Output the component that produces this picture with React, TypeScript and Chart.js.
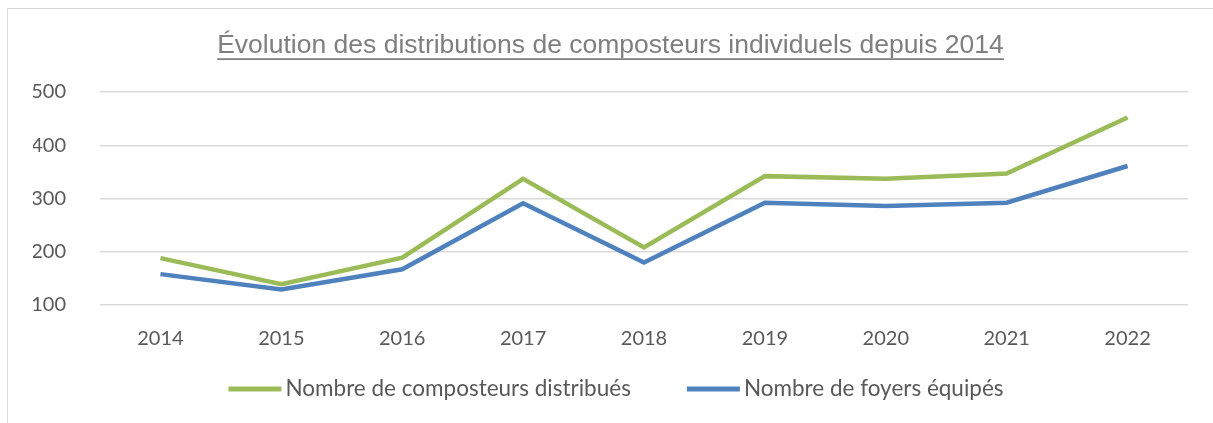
import React, { useEffect, useRef } from "react";
import { Chart, registerables } from "chart.js";

Chart.register(...registerables);

const years = ["2014", "2015", "2016", "2017", "2018", "2019", "2020", "2021", "2022"];
const composteurs = [188, 139, 189, 337, 208, 342, 337, 347, 452];
const foyers = [158, 129, 167, 291, 180, 292, 286, 292, 361];
const yTickValues = [100, 200, 300, 400, 500];
const titleText = "Évolution des distributions de composteurs individuels depuis 2014";
const seriesLabels = ["Nombre de composteurs distribués", "Nombre de foyers équipés"];
const seriesColors = ["#9bbb59", "#4f81bd"];

const TICK_FONT = "Lato";
const TICK_SIZE = 20;
const LEGEND_SIZE = 22.5;
const TITLE_FONT = "'Liberation Sans', Arial, sans-serif";
const TITLE_SIZE = 26.5;
const TITLE_PAD_TOP = 21;

const titleUnderline = {
  id: "titleUnderline",
  afterDraw(chart: any) {
    const tb = chart.titleBlock;
    if (!tb) return;
    const ctx = chart.ctx;
    ctx.save();
    ctx.font = `${TITLE_SIZE}px ${TITLE_FONT}`;
    const w = ctx.measureText(titleText).width;
    const cx = (tb.left + tb.right) / 2;
    const cy = tb.top + TITLE_PAD_TOP + (TITLE_SIZE * 1.2) / 2;
    const y = cy + TITLE_SIZE * 0.5;
    ctx.strokeStyle = "#7f7f7f";
    ctx.lineWidth = 1.7;
    ctx.beginPath();
    ctx.moveTo(cx - w / 2, y);
    ctx.lineTo(cx + w / 2, y);
    ctx.stroke();
    ctx.restore();
  },
};

const excelLegend = {
  id: "excelLegend",
  afterDraw(chart: any) {
    const ctx = chart.ctx;
    const ds = chart.data.datasets;
    ctx.save();
    ctx.font = `${LEGEND_SIZE}px ${TICK_FONT}`;
    ctx.textBaseline = "middle";
    ctx.textAlign = "left";
    const boxW = 53;
    const gap = 4;
    const itemGap = 56;
    const widths = ds.map((d: any) => boxW + gap + ctx.measureText(d.label).width);
    const total = widths.reduce((a: number, b: number) => a + b, 0) + itemGap * (ds.length - 1);
    let x = 608 - total / 2;
    const y = 380;
    ds.forEach((d: any, i: number) => {
      ctx.fillStyle = d.borderColor;
      ctx.fillRect(x, y - 2.5, boxW, 5);
      ctx.fillStyle = "#595959";
      ctx.fillText(d.label, x + boxW + gap, y);
      x += widths[i] + itemGap;
    });
    ctx.restore();
  },
};

export default function App() {
  const ref = useRef<HTMLCanvasElement | null>(null);

  useEffect(() => {
    document.body.style.overflow = "hidden";
    if (!ref.current) return;
    const chart = new Chart(ref.current, {
      type: "line",
      data: {
        labels: years,
        datasets: [
          {
            label: seriesLabels[0],
            data: composteurs,
            borderColor: seriesColors[0],
            backgroundColor: seriesColors[0],
            borderWidth: 4.5,
            pointRadius: 0,
            tension: 0,
          },
          {
            label: seriesLabels[1],
            data: foyers,
            borderColor: seriesColors[1],
            backgroundColor: seriesColors[1],
            borderWidth: 4.5,
            pointRadius: 0,
            tension: 0,
          },
        ],
      },
      options: {
        animation: false,
        responsive: false,
        maintainAspectRatio: false,
        layout: { padding: { left: 25, right: 25, top: 0, bottom: 58 } },
        plugins: {
          legend: { display: false },
          tooltip: { enabled: false },
          title: {
            display: true,
            text: titleText,
            color: "#7f7f7f",
            font: { family: TITLE_FONT, size: TITLE_SIZE, weight: "normal", lineHeight: 1.2 },
            padding: { top: TITLE_PAD_TOP, bottom: 83 - TITLE_PAD_TOP - TITLE_SIZE * 1.2 },
          },
        },
        scales: {
          x: {
            offset: true,
            grid: { display: false },
            border: { display: false },
            ticks: {
              color: "#595959",
              font: { family: TICK_FONT, size: TICK_SIZE, lineHeight: 1.2 },
              padding: 14,
              maxRotation: 0,
              autoSkip: false,
            },
            afterFit(scale: any) {
              scale.height = 60;
            },
          },
          y: {
            min: yTickValues[0],
            max: yTickValues[yTickValues.length - 1],
            grid: { color: "#d9d9d9", lineWidth: 1.5, drawTicks: false },
            border: { display: false },
            afterBuildTicks(scale: any) {
              scale.ticks = yTickValues.map((v) => ({ value: v }));
            },
            ticks: {
              color: "#595959",
              font: { family: TICK_FONT, size: TICK_SIZE, lineHeight: 1.2 },
              padding: 34,
            },
            afterFit(scale: any) {
              scale.width = 67;
            },
          },
        },
      },
      plugins: [titleUnderline, excelLegend],
    });
    return () => chart.destroy();
  }, []);

  return (
    <div
      style={{
        position: "absolute",
        left: 7,
        top: 8,
        width: 1240,
        height: 440,
        border: "1px solid #d9d9d9",
        background: "#ffffff",
      }}
    >
      <canvas ref={ref} width={1205} height={414} style={{ display: "block", width: 1205, height: 414 }} />
    </div>
  );
}
